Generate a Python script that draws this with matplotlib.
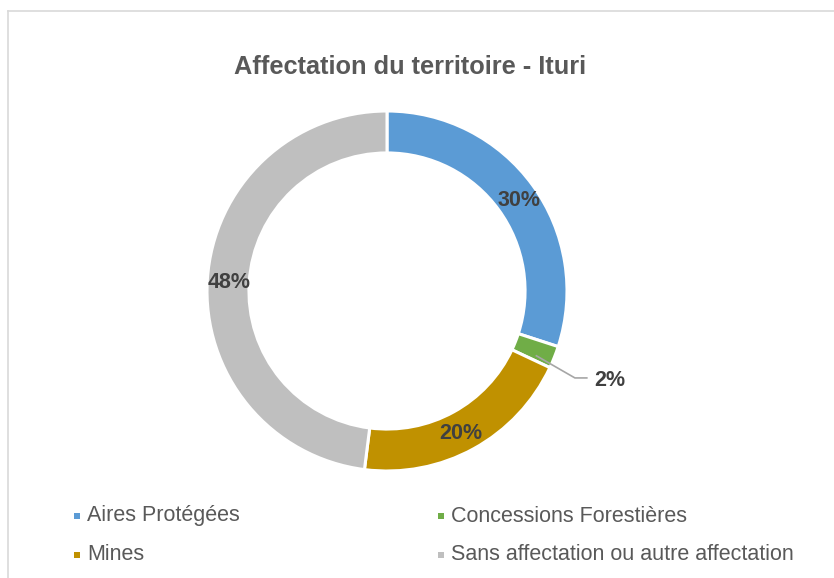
import matplotlib.pyplot as plt
from matplotlib.patches import Rectangle
from matplotlib.lines import Line2D

plt.rcParams['font.family'] = ['Liberation Sans', 'DejaVu Sans']

# Affectation du territoire - Ituri
categories = ["Aires Protégées", "Concessions Forestières", "Mines",
              "Sans affectation ou autre affectation"]
values = [30, 2, 20, 48]
labels = ["30%", "2%", "20%", "48%"]
colors = ["#5B9BD5", "#70AD47", "#C09100", "#BFBFBF"]

W, H = 834, 578
fig = plt.figure(figsize=(W / 100, H / 100), dpi=100)

# chart frame (light gray, runs off the right and bottom edges)
fig.add_artist(Line2D([8 / W, 8 / W], [0, 1 - 11 / H], color="#D9D9D9", lw=1.2))
fig.add_artist(Line2D([8 / W, 1], [1 - 11 / H, 1 - 11 / H], color="#D9D9D9", lw=1.2))

# donut: centre (387, 291), outer radius 180 px
cx, cy, r = 387, 291, 180
ax = fig.add_axes([(cx - r) / W, 1 - (cy + r) / H, 2 * r / W, 2 * r / H])
wedges, _ = ax.pie(values, colors=colors, startangle=90, counterclock=False,
                   radius=1.0,
                   wedgeprops=dict(width=0.233, edgecolor="white", linewidth=2.2))
ax.set_xlim(-1, 1)
ax.set_ylim(-1, 1)
ax.set_aspect("equal")
ax.axis("off")

# data labels (positions in axes data units)
lbl_pos = {0: (0.733, 0.50), 2: (0.41, -0.79), 3: (-0.878, 0.05)}
for i, p in lbl_pos.items():
    ax.text(p[0], p[1], labels[i], ha="center", va="center", fontsize=15.5,
            fontweight="bold", color="#404040")

# 2% label with leader line
ax.plot([0.83, 1.044, 1.11], [-0.36, -0.483, -0.483], color="#A6A6A6", lw=1.2,
        clip_on=False)
ax.text(1.24, -0.50, labels[1], ha="center", va="center", fontsize=15.5,
        fontweight="bold", color="#404040", clip_on=False)

# title
fig.text(410 / W, 1 - 67 / H, "Affectation du territoire - Ituri", ha="center",
         va="center", fontsize=18.3, fontweight="bold", color="#595959")

# legend (row-major, two columns)
leg_x = [74, 438]
leg_y = [516, 555]
for i, name in enumerate(categories):
    x = leg_x[i % 2]
    y = leg_y[i // 2]
    fig.add_artist(Rectangle((x / W, 1 - (y + 3) / H), 6 / W, 6 / H,
                             facecolor=colors[i], edgecolor="none"))
    fig.text((x + 13) / W, 1 - y / H, name, ha="left", va="center",
             fontsize=15.5, color="#595959")

fig.savefig("out.png", dpi=100)
